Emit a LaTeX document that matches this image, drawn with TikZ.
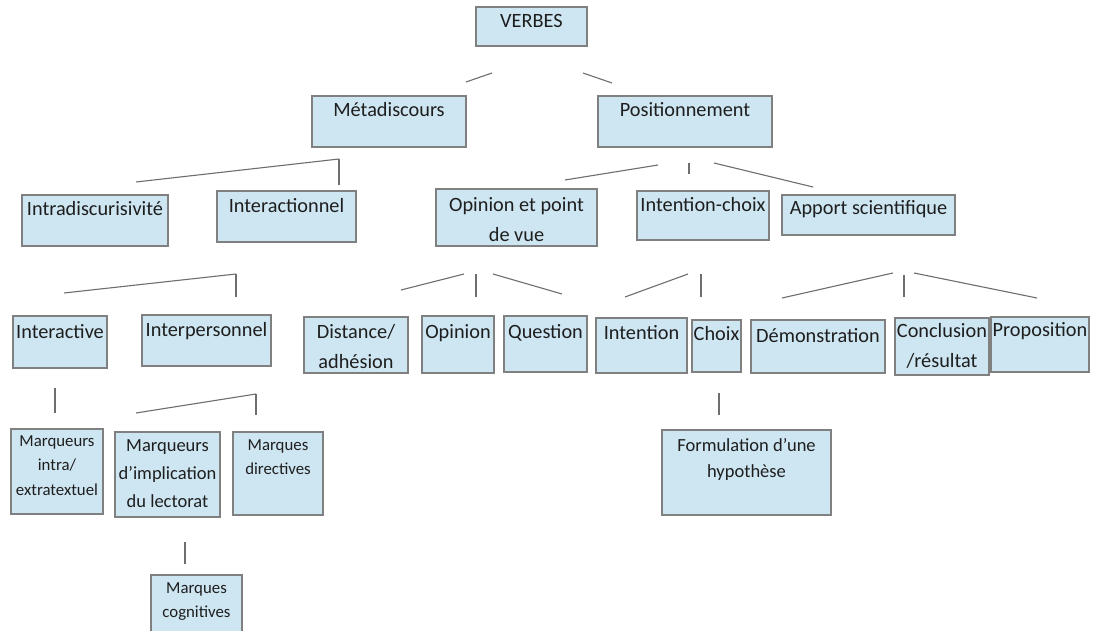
\documentclass[tikz,border=0pt]{standalone}
\usepackage{fontspec}
\setmainfont{Carlito}
\usetikzlibrary{calc}
\definecolor{boxfill}{RGB}{206,230,242}
\definecolor{boxdraw}{RGB}{128,128,128}
\definecolor{linecol}{RGB}{110,110,110}
\definecolor{txt}{RGB}{30,30,30}
\tikzset{
  box/.style={draw=boxdraw, fill=boxfill, line width=1.3pt, inner sep=0pt, outer sep=0pt},
  lbl/.style={text=txt, align=center, inner sep=0pt, anchor=base},
  conn/.style={draw=linecol, line width=1.1pt},
  fmain/.style={font=\fontsize{20.3}{30}\selectfont},
  fmid/.style={font=\fontsize{18.5}{28}\selectfont},
  fform/.style={font=\fontsize{18.5}{26}\selectfont},
  fsmall/.style={font=\fontsize{16.8}{24.5}\selectfont},
}
% name, x1, y1, x2, y2, baseline offset of the last line, font style, text
\newcommand\bx[8]{%
  \node[box, minimum width={(#4-#2)*1pt}, minimum height={(#5-#3)*1pt}] (#1) at ({(#2+#4)/2},{(#3+#5)/2}) {};
  \node[lbl, #7] (#1-t) at ({(#2+#4)/2},{#3+#6}) {#8};}
% name, x1, y1, x2, y2
\newcommand\seg[5]{%
  \coordinate (#1-a) at (#2,#3);
  \coordinate (#1-b) at (#4,#5);
  \draw[conn] (#1-a) -- (#1-b);}
\begin{document}
\begin{tikzpicture}[x=1pt,y=-1pt]
\useasboundingbox[fill=white] (0,0) rectangle (1093,631);
% level 0-1
\bx{verbes}{476}{7}{587}{46}{21}{fmain}{VERBES}
\bx{meta}{312}{96}{466}{147}{21}{fmain}{Métadiscours}
\bx{posi}{598}{96}{772}{147}{21}{fmain}{Positionnement}
% level 2
\bx{intra}{22}{195}{168}{246}{21}{fmain}{Intradiscurisivité}
\bx{inter}{217}{191}{356}{242}{22}{fmain}{Interactionnel}
\bx{opin}{436}{189}{597}{246}{53}{fmain}{Opinion et point\\de vue}
\bx{intch}{637}{191}{769}{240}{21}{fmain}{Intention-choix}
\bx{apport}{782}{195}{955}{235}{20}{fmain}{Apport scientifique}
% level 3
\bx{interact}{13}{316}{107}{368}{22}{fmain}{Interactive}
\bx{interp}{142}{315}{271}{366}{21}{fmain}{Interpersonnel}
\bx{dist}{304}{317}{408}{373}{51}{fmain}{Distance/\\adhésion}
\bx{opinion}{422}{316}{494}{373}{22}{fmain}{Opinion}
\bx{quest}{504}{316}{587}{372}{22}{fmain}{Question}
\bx{inten}{596}{318}{687}{373}{21}{fmain}{Intention}
\bx{choix}{692}{320}{741}{372}{21}{fmain}{Choix}
\bx{demo}{751}{320}{885}{373}{22}{fmain}{Démonstration}
\bx{concl}{895}{318}{989}{375}{49}{fmain}{Conclusion\\/résultat}
\bx{prop}{991}{317}{1089}{372}{20}{fmain}{Proposition}
% level 4
\bx{mqi}{11}{429}{103}{514}{66}{fsmall}{Marqueurs\\intra/\\extratextuel}
\bx{mqimp}{115}{432}{220}{517}{75}{fmid}{Marqueurs\\d’implication\\du lectorat}
\bx{mqdir}{233}{432}{323}{515}{42.5}{fsmall}{Marques\\directives}
\bx{form}{662}{430}{831}{515}{47}{fform}{Formulation d’une\\hypothèse}
% level 5
\bx{mqcog}{151}{575}{242}{636}{42.5}{fsmall}{Marques\\cognitives}
% connectors
\seg{v1}{466}{82}{492}{73}
\seg{v2}{583}{73}{612}{83}
\seg{m1}{136}{182}{339}{159}
\seg{m2}{339}{159}{339}{185}
\seg{p1}{565}{180}{658}{165}
\seg{p2}{689}{163}{689}{174}
\seg{p3}{714}{163}{813}{187}
\seg{i1}{64}{293}{236}{274}
\seg{i2}{236}{274}{236}{297}
\seg{o1}{401}{290}{464}{274}
\seg{o2}{476}{274}{476}{297}
\seg{o3}{493}{274}{562}{294}
\seg{c1}{625}{297}{688}{274}
\seg{c2}{701}{274}{701}{297}
\seg{a1}{782}{298}{893}{273}
\seg{a2}{904}{275}{904}{297}
\seg{a3}{914}{273}{1037}{298}
\seg{ia}{55}{388}{55}{413}
\seg{ip1}{136}{413}{256}{394}
\seg{ip2}{256}{394}{256}{415}
\seg{mc}{185}{542}{185}{564}
\seg{ch}{719}{393}{719}{415}
\end{tikzpicture}
\end{document}
